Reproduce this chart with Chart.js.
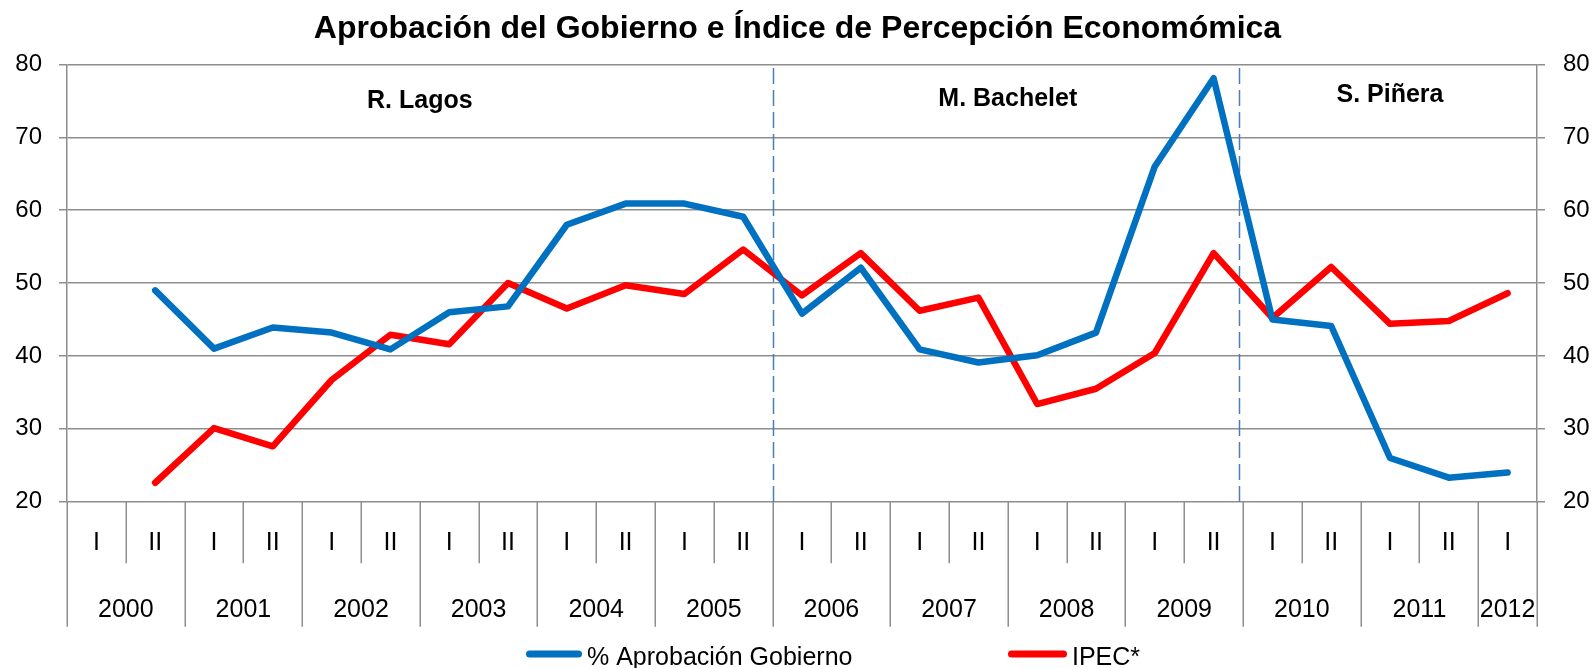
<!DOCTYPE html>
<html><head><meta charset="utf-8">
<script src="https://cdn.jsdelivr.net/npm/chart.js@4"></script>
<style>html,body{margin:0;padding:0;background:#fff}</style>
</head><body>
<canvas id="c" width="1595" height="668"></canvas>
<script>
const chartTitle = 'Aprobación del Gobierno e Índice de Percepción Economómica';
const periods = ['2000 I','2000 II','2001 I','2001 II','2002 I','2002 II','2003 I','2003 II','2004 I','2004 II','2005 I','2005 II','2006 I','2006 II','2007 I','2007 II','2008 I','2008 II','2009 I','2009 II','2010 I','2010 II','2011 I','2011 II','2012 I'];
const approval = [null,49.0,41.0,43.9,43.2,40.9,46.0,46.8,58.0,60.9,60.9,59.1,45.8,52.1,40.9,39.1,40.1,43.2,66.0,78.1,45.0,44.1,26.0,23.3,24.0];
const ipec = [null,22.6,30.1,27.6,36.7,42.9,41.6,50.0,46.5,49.7,48.5,54.6,48.3,54.1,46.2,48.0,33.4,35.5,40.4,54.1,45.2,52.2,44.4,44.8,48.6];
const seriesNames = ['% Aprobación Gobierno','IPEC*'];
const presidents = ['R. Lagos','M. Bachelet','S. Piñera'];
const termStarts = ['2000 I','2006 I','2010 I'];
const yMin = 20, yMax = 80, yStep = 10;

const FONT = "'Liberation Sans', Arial, sans-serif";
const GRID = '#8e8e8e';
const BLUE = '#0070C0', RED = '#FF0000';
const NAME_Y = [74.9, 75.2, 75.75];

const yearOf = p => p.split(' ')[0];
const halfOf = p => p.split(' ')[1];

const decor = {
  id: 'decor',
  beforeDatasetsDraw(chart) {
    const ctx = chart.ctx, xs = chart.scales.x, ys = chart.scales.y, ca = chart.chartArea;
    ctx.save();
    ctx.strokeStyle = '#4a7ebb';
    ctx.lineWidth = 1.5;
    ctx.setLineDash([16, 6]);
    termStarts.slice(1).forEach((p, k) => {
      const idx = periods.indexOf(p);
      const x = Math.round(xs.getPixelForValue(idx - (k === 0 ? 0.5 : 0.57))) + 0.5;
      ctx.beginPath();
      ctx.moveTo(x, ys.getPixelForValue(79.5));
      ctx.lineTo(x, ca.bottom);
      ctx.stroke();
    });
    ctx.restore();
    ctx.save();
    ctx.fillStyle = '#000';
    ctx.font = 'bold 25px ' + FONT;
    ctx.textAlign = 'center';
    ctx.textBaseline = 'middle';
    presidents.forEach((name, k) => {
      const s = periods.indexOf(termStarts[k]);
      const e = k + 1 < termStarts.length ? periods.indexOf(termStarts[k + 1]) - 1 : periods.length - 1;
      const x = (xs.getPixelForValue(s - 0.5) + xs.getPixelForValue(e + 0.5)) / 2;
      ctx.fillText(name, x, ys.getPixelForValue(NAME_Y[k]));
    });
    ctx.restore();
  },
  afterDraw(chart) {
    const ctx = chart.ctx, xs = chart.scales.x, ca = chart.chartArea;
    const top = ca.bottom;
    ctx.save();
    ctx.strokeStyle = GRID;
    ctx.lineWidth = 1.5;
    const n = periods.length;
    for (let i = 0; i <= n; i++) {
      const x = Math.round(xs.getPixelForValue(i - 0.5)) + 0.25;
      const yb = (i === 0 || i === n || yearOf(periods[i]) !== yearOf(periods[i - 1]));
      ctx.beginPath();
      ctx.moveTo(x, top);
      ctx.lineTo(x, top + (yb ? 125 : 61.5));
      ctx.stroke();
    }
    ctx.fillStyle = '#000';
    ctx.font = '25px ' + FONT;
    ctx.textAlign = 'center';
    ctx.textBaseline = 'alphabetic';
    const years = [...new Set(periods.map(yearOf))];
    years.forEach(y => {
      const first = periods.findIndex(p => yearOf(p) === y);
      let last = first;
      while (last + 1 < n && yearOf(periods[last + 1]) === y) last++;
      const x = (xs.getPixelForValue(first - 0.5) + xs.getPixelForValue(last + 0.5)) / 2;
      ctx.fillText(y, x, top + 115.5);
    });
    const legendY = chart.height - 14;
    const items = [
      {x: 526, w: 56, color: BLUE, text: seriesNames[0]},
      {x: 1008, w: 59, color: RED, text: seriesNames[1]}
    ];
    ctx.lineCap = 'round';
    ctx.lineWidth = 7;
    ctx.textAlign = 'left';
    items.forEach(it => {
      ctx.strokeStyle = it.color;
      ctx.beginPath();
      ctx.moveTo(it.x + 3.5, legendY);
      ctx.lineTo(it.x + it.w - 3.5, legendY);
      ctx.stroke();
      ctx.fillText(it.text, it.x + it.w + 5, legendY + 11);
    });
    ctx.restore();
  }
};

new Chart(document.getElementById('c'), {
  type: 'line',
  data: {
    labels: periods,
    datasets: [
      {label: seriesNames[0], data: approval, borderColor: BLUE, backgroundColor: BLUE, borderWidth: 6.5, pointRadius: 0, borderJoinStyle: 'round', borderCapStyle: 'round', tension: 0, yAxisID: 'y'},
      {label: seriesNames[1], data: ipec, borderColor: RED, backgroundColor: RED, borderWidth: 6.5, pointRadius: 0, borderJoinStyle: 'round', borderCapStyle: 'round', tension: 0, yAxisID: 'y'}
    ]
  },
  options: {
    responsive: false,
    animation: false,
    devicePixelRatio: 1,
    layout: {padding: 0},
    plugins: {
      legend: {display: false},
      tooltip: {enabled: false},
      title: {
        display: true,
        text: chartTitle,
        color: '#000',
        font: {family: FONT, size: 32, weight: 'bold'},
        padding: {top: 10, bottom: 16}
      }
    },
    scales: {
      x: {
        type: 'category',
        offset: true,
        grid: {display: false, drawTicks: false, tickLength: 0},
        border: {display: false},
        ticks: {
          autoSkip: false, maxRotation: 0, minRotation: 0,
          padding: 26,
          color: '#000',
          font: {family: FONT, size: 25},
          callback: function(v, i) { return halfOf(periods[i]); }
        },
        afterFit: s => { s.height = 668 - 501.7; }
      },
      y: {
        position: 'left',
        min: yMin, max: yMax,
        ticks: {stepSize: yStep, padding: 17, color: '#000', font: {family: FONT, size: 24}},
        grid: {color: GRID, lineWidth: 1.5, tickLength: 8, drawTicks: true},
        border: {display: true, color: GRID, width: 1.5},
        afterFit: s => { s.width = 67; }
      },
      y2: {
        position: 'right',
        min: yMin, max: yMax,
        ticks: {stepSize: yStep, padding: 18, color: '#000', font: {family: FONT, size: 24}},
        grid: {color: GRID, lineWidth: 1.5, tickLength: 8, drawTicks: true, drawOnChartArea: false},
        border: {display: true, color: GRID, width: 1.5},
        afterFit: s => { s.width = 58; }
      }
    }
  },
  plugins: [decor]
});
</script>
</body></html>
